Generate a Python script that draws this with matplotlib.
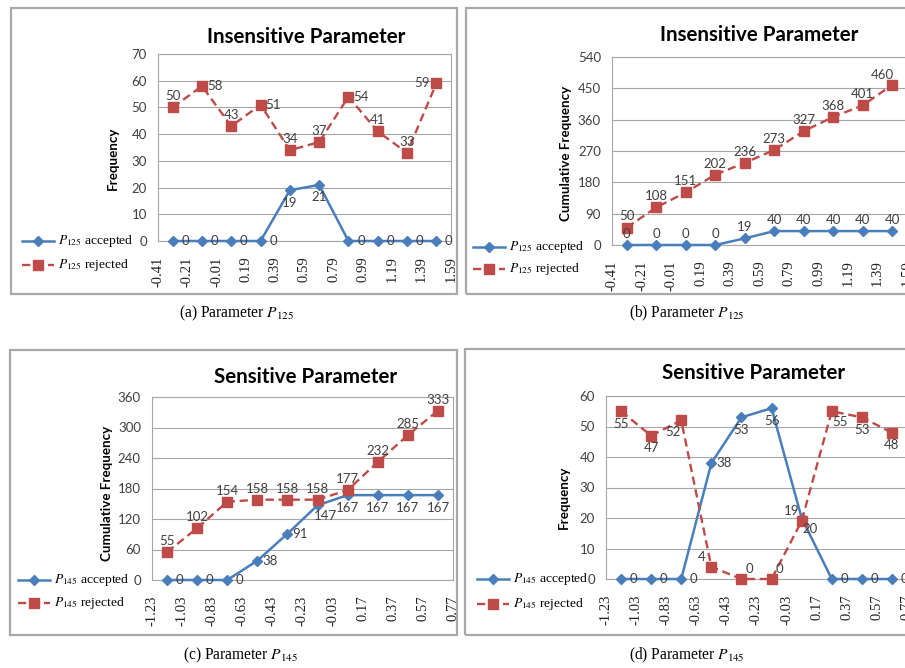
import numpy as np
import matplotlib
matplotlib.use("Agg")
import matplotlib.pyplot as plt
from matplotlib.lines import Line2D
from matplotlib.patches import Rectangle

plt.rcParams['font.family'] = ['Lato', 'DejaVu Sans']
plt.rcParams['mathtext.fontset'] = 'stix'

W, H = 905, 668

# ---- data
ticks_125 = ["-0.41", "-0.21", "-0.01", "0.19", "0.39", "0.59", "0.79", "0.99", "1.19", "1.39", "1.59"]
ticks_145 = ["-1.23", "-1.03", "-0.83", "-0.63", "-0.43", "-0.23", "-0.03", "0.17", "0.37", "0.57", "0.77"]

acc_125 = [0, 0, 0, 0, 19, 21, 0, 0, 0, 0]
rej_125 = [50, 58, 43, 51, 34, 37, 54, 41, 33, 59]
cum_acc_125 = [0, 0, 0, 0, 19, 40, 40, 40, 40, 40]
cum_rej_125 = [50, 108, 151, 202, 236, 273, 327, 368, 401, 460]

acc_145 = [0, 0, 0, 38, 53, 56, 20, 0, 0, 0]
rej_145 = [55, 47, 52, 4, 0, 0, 19, 55, 53, 48]
cum_acc_145 = [0, 0, 0, 38, 91, 147, 167, 167, 167, 167]
cum_rej_145 = [55, 102, 154, 158, 158, 158, 177, 232, 285, 333]

# label placement codes (u=above, d=below, r=right, l=left)
OFF = {'u': (0, 8), 'd': (0, -9), 'r': (9, 0), 'l': (-10, 0),
       'ul': (-7, 7), 'dr': (6, -8), 'dl': (-6, -8), 'ur': (6, 7)}
pos_a_acc = ['r', 'r', 'r', 'r', 'd', 'd', 'r', 'r', 'r', 'r']
pos_a_rej = ['u', 'r', 'u', 'r', 'u', 'u', 'r', 'u', 'u', 'l']
pos_b_acc = ['u'] * 10
pos_b_rej = ['u'] * 9 + ['ul']
pos_c_acc = ['r', 'r', 'r', 'r', 'r', 'dr', 'd', 'd', 'd', 'd']
pos_c_rej = ['u'] * 10
pos_d_acc = ['r', 'r', 'r', 'r', 'd', 'd', 'dr', 'r', 'r', 'r']
pos_d_rej = ['d', 'd', 'dl', 'ul', 'ur', 'ur', 'ul', 'dr', 'd', 'd']

BLUE = '#4a7ebb'
RED = '#be4b48'
TXT = '#404040'


def fig_rect(x0, y0, x1, y1):
    return [x0 / W, 1 - y1 / H, (x1 - x0) / W, (y1 - y0) / H]


def fx(x):
    return x / W


def fy(y):
    return 1 - y / H


fig = plt.figure(figsize=(W / 100, H / 100), dpi=100)


def panel(area, frame, title, title_xy, ylabel, ylabel_xy, ymax, ystep,
          xt, acc, rej, pacc, prej, sub, leg_xy, cap, cap_xy):
    # outer frame
    fig.add_artist(Rectangle((fx(frame[0]), fy(frame[3])),
                             (frame[2] - frame[0]) / W, (frame[3] - frame[1]) / H,
                             transform=fig.transFigure, fill=False,
                             edgecolor='#a8a8a8', lw=1.6))
    ax = fig.add_axes(fig_rect(*area))
    x = np.arange(len(acc)) + 0.5
    ax.set_xlim(0, len(acc))
    ax.set_ylim(0, ymax)
    ax.set_yticks(np.arange(0, ymax + 1, ystep))
    ax.set_xticks(np.arange(len(xt)))
    ax.set_xticklabels(xt, rotation=90, family='Liberation Serif', fontsize=10.5, color='#202020')
    ax.tick_params(axis='y', length=0, pad=8, labelsize=9.5, labelcolor=TXT)
    ax.tick_params(axis='x', length=0, pad=11)
    ax.grid(axis='y', color='#a6a6a6', lw=0.8)
    ax.set_axisbelow(True)
    for s in ax.spines.values():
        s.set_color('#a6a6a6')
        s.set_linewidth(0.8)
    ax.plot(x, acc, color=BLUE, lw=1.8, marker='D', ms=5, clip_on=False, zorder=3)
    ax.plot(x, rej, color=RED, lw=1.7, ls=(0, (3.5, 2)), marker='s', ms=7.5, clip_on=False, zorder=3)
    for xi, v, p in zip(x, acc, pacc):
        ax.annotate(str(v), (xi, v), xytext=OFF[p], textcoords='offset points',
                    ha='center', va='center', fontsize=9.5, color=TXT, zorder=5)
    for xi, v, p in zip(x, rej, prej):
        ax.annotate(str(v), (xi, v), xytext=OFF[p], textcoords='offset points',
                    ha='center', va='center', fontsize=9.5, color=TXT, zorder=5)
    fig.text(fx(title_xy[0]), fy(title_xy[1]), title, ha='center', va='center',
             fontsize=14.8, fontweight='bold', color='black')
    fig.text(fx(ylabel_xy[0]), fy(ylabel_xy[1]), ylabel, ha='center', va='center',
             rotation=90, fontsize=9.6, fontweight='bold', color='black')
    # legend
    lx, ly1, ly2 = leg_xy
    fig.add_artist(Line2D([fx(lx), fx(lx + 32)], [fy(ly1), fy(ly1)], color=BLUE, lw=1.8,
                          transform=fig.transFigure))
    fig.add_artist(Line2D([fx(lx + 16)], [fy(ly1)], color=BLUE, marker='D', ms=5,
                          transform=fig.transFigure))
    fig.add_artist(Line2D([fx(lx), fx(lx + 32)], [fy(ly2), fy(ly2)], color=RED, lw=1.7,
                          ls=(0, (3.5, 2)), transform=fig.transFigure))
    fig.add_artist(Line2D([fx(lx + 16)], [fy(ly2)], color=RED, marker='s', ms=7.5,
                          transform=fig.transFigure))
    fig.text(fx(lx + 36), fy(ly1), r"$P_{%s}$ accepted" % sub, ha='left', va='center',
             family='Liberation Serif', fontsize=9.7)
    fig.text(fx(lx + 36), fy(ly2), r"$P_{%s}$ rejected" % sub, ha='left', va='center',
             family='Liberation Serif', fontsize=9.7)
    fig.text(fx(cap_xy[0]), fy(cap_xy[1]), cap, ha='center', va='center',
             family='Liberation Serif', fontsize=11.2)
    return ax


panel((158, 54, 451, 241), (11, 8, 457, 294), "Insensitive Parameter", (306, 37),
      "Frequency", (113, 158), 70, 10, ticks_125, acc_125, rej_125, pos_a_acc, pos_a_rej,
      "125", (22, 241, 265), r"(a) Parameter $P_{125}$", (236, 313))
panel((612, 57, 907, 245), (466, 8, 912, 294), "Insensitive Parameter", (759, 35),
      "Cumulative Frequency", (566, 153), 540, 90, ticks_125, cum_acc_125, cum_rej_125,
      pos_b_acc, pos_b_rej, "125", (473, 247, 269), r"(b) Parameter $P_{125}$", (687, 313))
panel((152, 397, 453, 580), (10, 350, 457, 635), "Sensitive Parameter", (306, 377),
      "Cumulative Frequency", (107, 493), 360, 60, ticks_145, cum_acc_145, cum_rej_145,
      pos_c_acc, pos_c_rej, "145", (18, 580, 603), r"(c) Parameter $P_{145}$", (240, 655))
panel((606, 396, 907, 579), (465, 349, 912, 635), "Sensitive Parameter", (754, 373),
      "Frequency", (564, 497), 60, 10, ticks_145, acc_145, rej_145,
      pos_d_acc, pos_d_rej, "145", (477, 579, 604), r"(d) Parameter $P_{145}$", (687, 655))

fig.savefig("out.png", dpi=100)
